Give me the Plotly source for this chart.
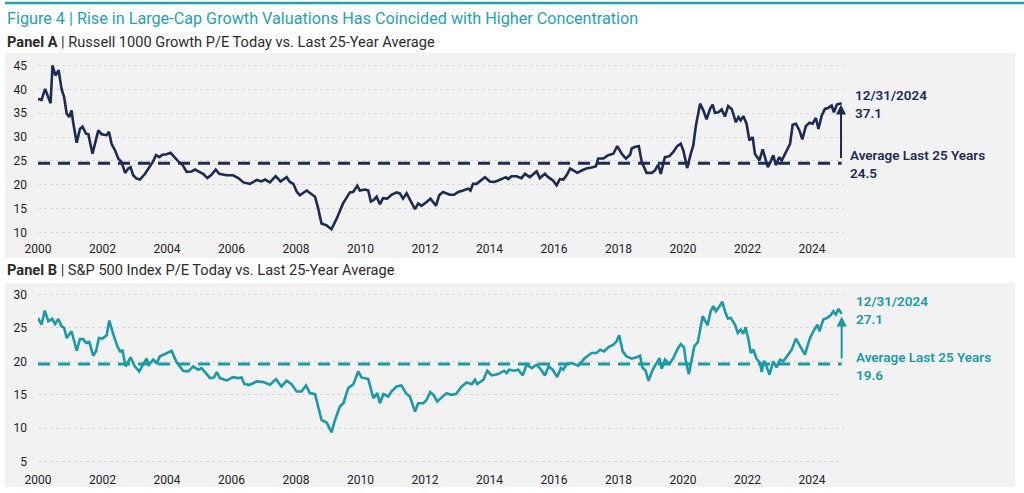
import plotly.graph_objects as go

# ---------------- data ----------------
years_a = [2000.00, 2000.11, 2000.22, 2000.32, 2000.39, 2000.45, 2000.54, 2000.64, 2000.73, 2000.81,
           2000.89, 2000.97, 2001.04, 2001.09, 2001.20, 2001.30, 2001.38, 2001.49, 2001.56, 2001.69,
           2001.87, 2001.97, 2002.13, 2002.20, 2002.28, 2002.39, 2002.49, 2002.59, 2002.70, 2002.80,
           2002.87, 2002.95, 2003.06, 2003.16, 2003.32, 2003.47, 2003.57, 2003.66, 2003.76, 2003.86,
           2003.99, 2004.11, 2004.22, 2004.35, 2004.48, 2004.61, 2004.76, 2004.87, 2005.00, 2005.12,
           2005.25, 2005.38, 2005.51, 2005.62, 2005.85, 2006.05, 2006.21, 2006.37, 2006.57, 2006.78,
           2006.93, 2007.04, 2007.19, 2007.37, 2007.52, 2007.71, 2007.81, 2007.92, 2008.02,
           2008.12, 2008.33, 2008.59, 2008.69, 2008.79, 2008.95, 2009.10, 2009.26, 2009.46, 2009.67,
           2009.77, 2009.90, 2009.98, 2010.14, 2010.24, 2010.32, 2010.41, 2010.50, 2010.60, 2010.70,
           2010.83, 2010.96, 2011.12, 2011.22, 2011.32, 2011.43, 2011.53, 2011.69, 2011.79, 2011.89,
           2012.05, 2012.17, 2012.34, 2012.44, 2012.56, 2012.77, 2012.90, 2013.03, 2013.18, 2013.34,
           2013.41, 2013.49, 2013.60, 2013.70, 2013.86, 2014.01, 2014.15, 2014.27, 2014.40, 2014.51,
           2014.58, 2014.68, 2014.84, 2014.99, 2015.10, 2015.25, 2015.46, 2015.56, 2015.72, 2015.82,
           2015.97, 2016.08, 2016.18, 2016.29, 2016.39,
           2016.50, 2016.60, 2016.72, 2016.86, 2017.00, 2017.17, 2017.30, 2017.37, 2017.53, 2017.68,
           2017.84, 2017.96, 2018.10, 2018.23, 2018.36, 2018.41, 2018.50, 2018.63, 2018.72, 2018.87,
           2019.03, 2019.13, 2019.23, 2019.31, 2019.44, 2019.58, 2019.70, 2019.82, 2019.93, 2020.01,
           2020.13, 2020.24, 2020.32, 2020.40, 2020.53, 2020.63, 2020.73, 2020.84, 2020.92, 2020.99,
           2021.10, 2021.20, 2021.30, 2021.40, 2021.51, 2021.64, 2021.72, 2021.79, 2021.87, 2021.97,
           2022.06, 2022.16, 2022.23, 2022.37, 2022.47, 2022.54, 2022.63, 2022.70, 2022.80, 2022.88,
           2022.98, 2023.06, 2023.19, 2023.32, 2023.40, 2023.50, 2023.61, 2023.70, 2023.81, 2023.92,
           2024.02, 2024.12, 2024.20, 2024.30, 2024.40, 2024.50, 2024.61, 2024.68, 2024.77, 2024.92]
pe_russell = [38.0, 37.8, 40.1, 38.4, 37.1, 45.0, 42.9, 44.0, 40.1, 38.4,
              34.9, 34.2, 35.6, 33.1, 28.8, 31.7, 32.2, 30.7, 30.6, 26.5,
              31.4, 30.6, 30.4, 31.1, 28.6, 27.2, 25.5, 24.8, 22.5, 23.4,
              23.7, 22.0, 21.3, 21.1, 22.3, 23.9, 24.9, 26.2, 25.8, 26.3,
              26.4, 26.7, 25.8, 24.9, 24.2, 22.7, 22.8, 23.2, 22.7, 22.3,
              21.4, 22.1, 23.2, 22.3, 22.0, 22.0, 21.4, 20.5, 20.2, 21.0,
              20.7, 21.1, 20.5, 21.8, 20.7, 21.6, 20.6, 20.2, 18.6,
              17.8, 18.8, 17.5, 15.0, 11.9, 11.5, 10.7, 12.9, 16.1, 18.4,
              18.5, 19.8, 18.8, 19.0, 18.8, 16.5, 16.8, 17.5, 15.9, 17.2,
              17.1, 17.9, 18.4, 18.2, 17.1, 18.2, 17.0, 14.9, 16.1, 15.6,
              16.4, 17.1, 15.6, 17.8, 18.5, 17.9, 17.9, 18.5, 18.8, 19.2,
              18.8, 20.2, 20.2, 20.7, 21.6, 20.7, 20.6, 20.9, 21.3, 21.6,
              21.2, 21.8, 21.8, 21.4, 22.3, 21.6, 22.8, 21.4, 22.3, 21.6,
              20.9, 19.9, 21.2, 21.1, 22.0,
              23.4, 23.0, 22.5, 23.0, 23.4, 23.6, 23.9, 25.5, 25.5, 26.2,
              26.5, 28.1, 26.5, 25.5, 26.3, 27.6, 27.9, 28.1, 24.8, 22.5,
              22.5, 23.0, 24.2, 22.3, 25.8, 26.0, 26.9, 28.1, 28.6, 27.2,
              23.5, 26.5, 28.3, 32.4, 37.0, 35.6, 33.7, 35.9, 36.8, 35.1,
              35.2, 35.8, 34.3, 36.5, 35.9, 33.1, 34.2, 33.5, 34.4, 32.8,
              29.3, 30.0, 26.5, 25.1, 27.4, 25.8, 23.7, 24.6, 26.2, 24.1,
              25.8, 25.1, 26.9, 28.6, 32.6, 32.8, 31.4, 29.5, 32.3, 33.0,
              32.8, 34.0, 31.7, 34.5, 35.9, 36.1, 36.6, 35.2, 36.8, 37.1]

years_b = [2000.00, 2000.11, 2000.21, 2000.32, 2000.44, 2000.53, 2000.63, 2000.73, 2000.81, 2000.89,
           2001.04, 2001.20, 2001.30, 2001.40, 2001.49, 2001.59, 2001.71, 2001.80, 2001.89, 2002.00,
           2002.13, 2002.21, 2002.33, 2002.46, 2002.54, 2002.62, 2002.72, 2002.87, 2003.00, 2003.14,
           2003.26, 2003.37, 2003.44, 2003.57, 2003.68, 2003.78, 2003.94, 2004.14, 2004.30, 2004.50,
           2004.66, 2004.81, 2004.97, 2005.07, 2005.18, 2005.33, 2005.46, 2005.54, 2005.64, 2005.85,
           2006.05, 2006.21, 2006.31, 2006.40, 2006.57, 2006.78, 2006.99, 2007.19, 2007.38, 2007.55,
           2007.71, 2007.86, 2008.02, 2008.17, 2008.31, 2008.43, 2008.59, 2008.69, 2008.79, 2008.95,
           2009.10, 2009.21, 2009.36, 2009.47, 2009.62, 2009.78, 2009.93, 2010.03, 2010.24, 2010.40,
           2010.52, 2010.60, 2010.71, 2010.86, 2010.96, 2011.12, 2011.27, 2011.41, 2011.53, 2011.69,
           2011.79, 2011.95, 2012.05,
           2012.16, 2012.26, 2012.38, 2012.52, 2012.67, 2012.80, 2012.96, 2013.14, 2013.29, 2013.45,
           2013.55, 2013.62, 2013.81, 2013.93, 2014.07, 2014.27, 2014.45, 2014.53, 2014.61, 2014.76,
           2014.89, 2015.03, 2015.15, 2015.31, 2015.46, 2015.60, 2015.72, 2015.83, 2015.96, 2016.10,
           2016.21, 2016.29, 2016.39, 2016.55, 2016.75, 2016.96, 2017.17, 2017.32, 2017.43, 2017.55,
           2017.69, 2017.84, 2017.94, 2018.02, 2018.13, 2018.25, 2018.41, 2018.56, 2018.67, 2018.74,
           2018.84, 2018.93, 2019.06, 2019.27, 2019.34, 2019.44, 2019.58, 2019.70, 2019.82, 2019.93,
           2020.03, 2020.09, 2020.18, 2020.27, 2020.35, 2020.46, 2020.55, 2020.61, 2020.76, 2020.86,
           2020.94, 2021.02, 2021.13, 2021.22, 2021.30, 2021.39, 2021.48, 2021.61, 2021.70, 2021.79,
           2021.87, 2021.94, 2022.03, 2022.10, 2022.18, 2022.28, 2022.39, 2022.44, 2022.51, 2022.59,
           2022.68, 2022.80, 2022.90, 2023.01, 2023.11, 2023.27, 2023.37, 2023.50, 2023.63, 2023.78,
           2023.92, 2024.04, 2024.17, 2024.23, 2024.35, 2024.47, 2024.58, 2024.66, 2024.74, 2024.82,
           2024.92]
pe_sp500 = [26.5, 25.5, 27.6, 26.0, 26.35, 25.6, 26.35, 25.25, 25.0, 23.5,
            24.5, 21.6, 23.35, 23.35, 22.75, 22.9, 20.85, 21.5, 23.5, 23.4,
            23.9, 26.1, 24.1, 22.25, 21.5, 21.6, 19.25, 20.6, 19.25, 18.5,
            19.6, 20.4, 19.5, 20.25, 19.75, 20.75, 21.1, 21.6, 19.85, 18.6,
            18.5, 19.25, 18.75, 19.0, 18.4, 17.5, 17.6, 18.4, 17.5, 17.15,
            17.65, 17.5, 17.6, 16.6, 16.5, 17.0, 16.9, 16.5, 17.35, 16.25,
            17.1, 16.6, 15.5, 15.5, 16.4, 15.25, 15.1, 13.25, 11.25, 10.85,
            9.4, 11.25, 13.25, 13.75, 16.0, 16.6, 18.5, 17.6, 17.35, 14.5,
            15.25, 13.75, 15.1, 14.75, 15.5, 16.25, 16.4, 15.25, 14.75, 12.5,
            13.75, 13.75, 14.25,
            15.4, 15.0, 14.0, 14.6, 15.25, 15.0, 15.1, 16.25, 16.85, 16.6,
            17.25, 16.6, 17.25, 18.6, 17.9, 18.1, 18.6, 18.25, 18.75, 18.6,
            18.75, 17.9, 19.5, 19.0, 19.5, 18.75, 17.9, 19.25, 18.75, 17.65,
            19.0, 18.75, 19.6, 19.75, 19.35, 20.5, 21.25, 21.25, 21.75, 21.5,
            22.15, 22.5, 23.0, 23.9, 21.5, 20.75, 20.4, 20.6, 20.85, 19.1,
            18.6, 17.1, 18.75, 20.5, 18.9, 20.25, 19.6, 20.5, 21.75, 22.6,
            22.1, 20.0, 18.1, 20.25, 22.25, 22.9, 25.1, 26.75, 25.4, 27.5,
            28.25, 27.5, 28.25, 28.9, 27.5, 26.4, 26.5, 25.5, 24.25, 24.75,
            24.1, 25.1, 23.25, 21.25, 21.75, 20.4, 19.75, 18.4, 20.1, 19.25,
            18.0, 20.0, 19.1, 20.25, 20.0, 21.1, 21.75, 23.4, 22.25, 21.0,
            23.25, 24.5, 25.5, 24.5, 26.25, 26.5, 26.9, 27.5, 27.0, 27.85,
            27.1]

avg_russell = 24.5
avg_sp500 = 19.6
last_russell = 37.1
last_sp500 = 27.1
last_date = "12/31/2024"
tick_years = [2000, 2002, 2004, 2006, 2008, 2010, 2012, 2014, 2016, 2018, 2020, 2022, 2024]
yticks_a = [10, 15, 20, 25, 30, 35, 40, 45]
yticks_b = [5, 10, 15, 20, 25, 30]

# ---------------- styling ----------------
W, H = 1024, 493
NAVY = "#1d2b50"
TEAL = "#1a9aa6"
TITLE_TEAL = "#1fa2b0"
GRAY_BG = "#f2f2f2"
FONT = "Roboto"

def py(px):
    return 1 - px / H

def pxx(px):
    return px / W

x_dom = [38 / W, 844.25 / W]
ya_dom = [py(237.3), py(60.7)]
yb_dom = [py(466.4), py(289.8)]

fig = go.Figure()

fig.add_trace(go.Scatter(x=[years_a[0], years_a[-1]], y=[avg_russell, avg_russell], mode="lines",
                         line=dict(color=NAVY, width=3, dash="12px,8px"), xaxis="x", yaxis="y",
                         hoverinfo="skip"))
fig.add_trace(go.Scatter(x=years_a, y=pe_russell, mode="lines",
                         line=dict(color=NAVY, width=2.6), xaxis="x", yaxis="y"))
fig.add_trace(go.Scatter(x=[years_b[0], years_b[-1]], y=[avg_sp500, avg_sp500], mode="lines",
                         line=dict(color=TEAL, width=3, dash="12px,8px"), xaxis="x2", yaxis="y2",
                         hoverinfo="skip"))
fig.add_trace(go.Scatter(x=years_b, y=pe_sp500, mode="lines",
                         line=dict(color=TEAL, width=2.6), xaxis="x2", yaxis="y2"))

axis_common = dict(showline=False, zeroline=False, ticks="", automargin=False,
                   tickfont=dict(family=FONT, size=12, color="#222222"))
grid = dict(showgrid=True, gridcolor="#d6d6d6", gridwidth=1, griddash="3px,3px")

fig.update_layout(
    width=W, height=H,
    margin=dict(l=0, r=0, t=0, b=0, pad=0, autoexpand=False),
    paper_bgcolor="white", plot_bgcolor="rgba(0,0,0,0)",
    showlegend=False,
    font=dict(family=FONT),
    xaxis=dict(domain=x_dom, anchor="y", range=[2000, 2025], tickvals=tick_years,
               ticktext=[str(t) for t in tick_years], showgrid=False,
               ticklabelstandoff=3, **axis_common),
    yaxis=dict(domain=ya_dom, anchor="x", range=[9, 46], tickvals=yticks_a,
               ticklabelstandoff=10, **grid, **axis_common),
    xaxis2=dict(domain=x_dom, anchor="y2", range=[2000, 2025], tickvals=tick_years,
                ticktext=[str(t) for t in tick_years], showgrid=False,
                ticklabelstandoff=5, **axis_common),
    yaxis2=dict(domain=yb_dom, anchor="x2", range=[4.3, 30.7], tickvals=yticks_b,
                ticklabelstandoff=10, **grid, **axis_common),
)

shapes = [
    dict(type="line", xref="paper", yref="paper", x0=pxx(5), x1=1, y0=py(3), y1=py(3),
         line=dict(color=TITLE_TEAL, width=2.5)),
    dict(type="rect", xref="paper", yref="paper", x0=pxx(5), x1=pxx(1015), y0=py(258), y1=py(53),
         fillcolor=GRAY_BG, line=dict(width=0), layer="below"),
    dict(type="rect", xref="paper", yref="paper", x0=pxx(5), x1=pxx(1015), y0=py(487), y1=py(283),
         fillcolor=GRAY_BG, line=dict(width=0), layer="below"),
]
fig.update_layout(shapes=shapes)

lab = dict(family=FONT, size=13.5, weight=600)
ann = [
    dict(xref="paper", yref="paper", x=pxx(5), y=py(18), xanchor="left", yanchor="middle",
         text="Figure 4 | Rise in Large-Cap Growth Valuations Has Coincided with Higher Concentration",
         showarrow=False, font=dict(family=FONT, size=16.2, color=TITLE_TEAL)),
    dict(xref="paper", yref="paper", x=pxx(5), y=py(42), xanchor="left", yanchor="middle",
         text="<b>Panel A</b> | Russell 1000 Growth P/E Today vs. Last 25-Year Average",
         showarrow=False, font=dict(family=FONT, size=14.6, color="#2b2b2b")),
    dict(xref="paper", yref="paper", x=pxx(5), y=py(270), xanchor="left", yanchor="middle",
         text="<b>Panel B</b> | S&P 500 Index P/E Today vs. Last 25-Year Average",
         showarrow=False, font=dict(family=FONT, size=14.6, color="#2b2b2b")),
    # Panel A labels
    dict(xref="paper", yref="paper", x=pxx(853), y=py(104), xanchor="left", yanchor="middle",
         align="left", text=f"{last_date}<br>{last_russell}", showarrow=False,
         font=dict(color=NAVY, **lab)),
    dict(xref="paper", yref="paper", x=pxx(848), y=py(164), xanchor="left", yanchor="middle",
         align="left", text=f"Average Last 25 Years<br>{avg_russell}", showarrow=False,
         font=dict(color=NAVY, **lab)),
    dict(xref="x", yref="y", x=2024.9, y=36.8, axref="x", ayref="y", ax=2024.9, ay=25.3,
         text="", showarrow=True, arrowhead=2, arrowsize=1, arrowwidth=2, arrowcolor=NAVY),
    # Panel B labels
    dict(xref="paper", yref="paper", x=pxx(854), y=py(310), xanchor="left", yanchor="middle",
         align="left", text=f"{last_date}<br>{last_sp500}", showarrow=False,
         font=dict(color=TEAL, **lab)),
    dict(xref="paper", yref="paper", x=pxx(854), y=py(365.5), xanchor="left", yanchor="middle",
         align="left", text=f"Average Last 25 Years<br>{avg_sp500}", showarrow=False,
         font=dict(color=TEAL, **lab)),
    dict(xref="x2", yref="y2", x=2024.92, y=26.7, axref="x2", ayref="y2", ax=2024.92, ay=20.2,
         text="", showarrow=True, arrowhead=2, arrowsize=1, arrowwidth=2, arrowcolor=TEAL),
]
fig.update_layout(annotations=ann)

fig.write_html("out.html", config={"displayModeBar": False},
               post_script="document.body.style.margin='0';document.body.style.overflow='hidden';")
